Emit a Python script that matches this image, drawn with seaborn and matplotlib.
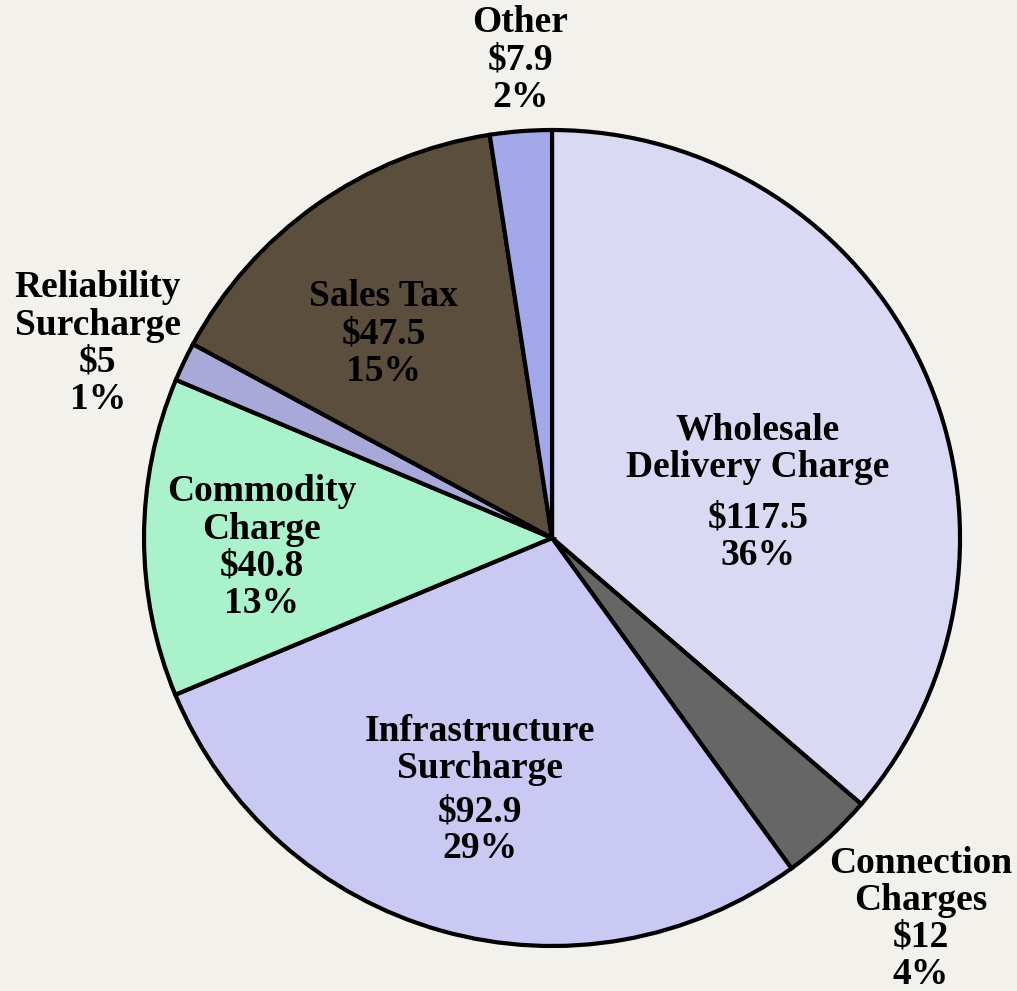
import matplotlib
matplotlib.use("Agg")
import matplotlib.pyplot as plt
import seaborn as sns
import numpy as np

# slice data, clockwise from 12 o'clock
categories = ["Wholesale\nDelivery Charge", "Connection\nCharges", "Infrastructure\nSurcharge",
              "Commodity\nCharge", "Reliability\nSurcharge", "Sales Tax", "Other"]
amounts = [117.5, 12, 92.9, 40.8, 5, 47.5, 7.9]
colors = ["#d9d9f4", "#666666", "#c9c9f3", "#a9f2cb", "#a9a9d9", "#5b4e3d", "#a2a8e9"]

# label anchor points (data units, pie radius = 1), extra gap between name and value
label_pos = [(0.505, 0.11), (0.904, -0.935), (-0.176, -0.62), (-0.711, -0.025),
             (-1.113, 0.475), (-0.412, 0.498), (-0.078, 1.17)]
value_gap = [0.035, 0, 0.015, 0, 0, 0, 0]


def percents(vals):
    # largest remainder rounding so the labels add up to 100
    raw = np.array(vals) / sum(vals) * 100
    base = np.floor(raw).astype(int)
    left = 100 - base.sum()
    order = np.argsort(-(raw - base))
    base[order[:left]] += 1
    return base


sns.set_style("white")
plt.rcParams["font.family"] = ["Liberation Serif", "DejaVu Serif"]
bg = "#f3f1ec"

fig = plt.figure(figsize=(10.17, 9.91), dpi=100, facecolor=bg)
ax = fig.add_axes([0.1416, 0.0454, 0.8024, 0.8234])
ax.set_facecolor(bg)

ax.pie(amounts, colors=colors, startangle=90, counterclock=False, radius=1,
       wedgeprops=dict(edgecolor="black", linewidth=3))

pcts = percents(amounts)
style = dict(ha="center", fontsize=27, fontweight="bold", linespacing=1.09,
             color="black", clip_on=False)
for name, val, pct, (x, y), gap in zip(categories, amounts, pcts, label_pos, value_gap):
    n_name = name.count("\n") + 1
    n_all = n_name + 2
    line_h = 0.0905  # one text line in data units
    top = y + (n_all * line_h + gap) / 2
    ax.text(x, top, name, va="top", **style)
    ax.text(x, top - n_name * line_h - gap, f"${val:g}\n{pct}%", va="top", **style)

ax.set_xlim(-1, 1)
ax.set_ylim(-1, 1)
ax.set_aspect("equal")
ax.axis("off")

fig.savefig("out.png", dpi=100, facecolor=bg)
